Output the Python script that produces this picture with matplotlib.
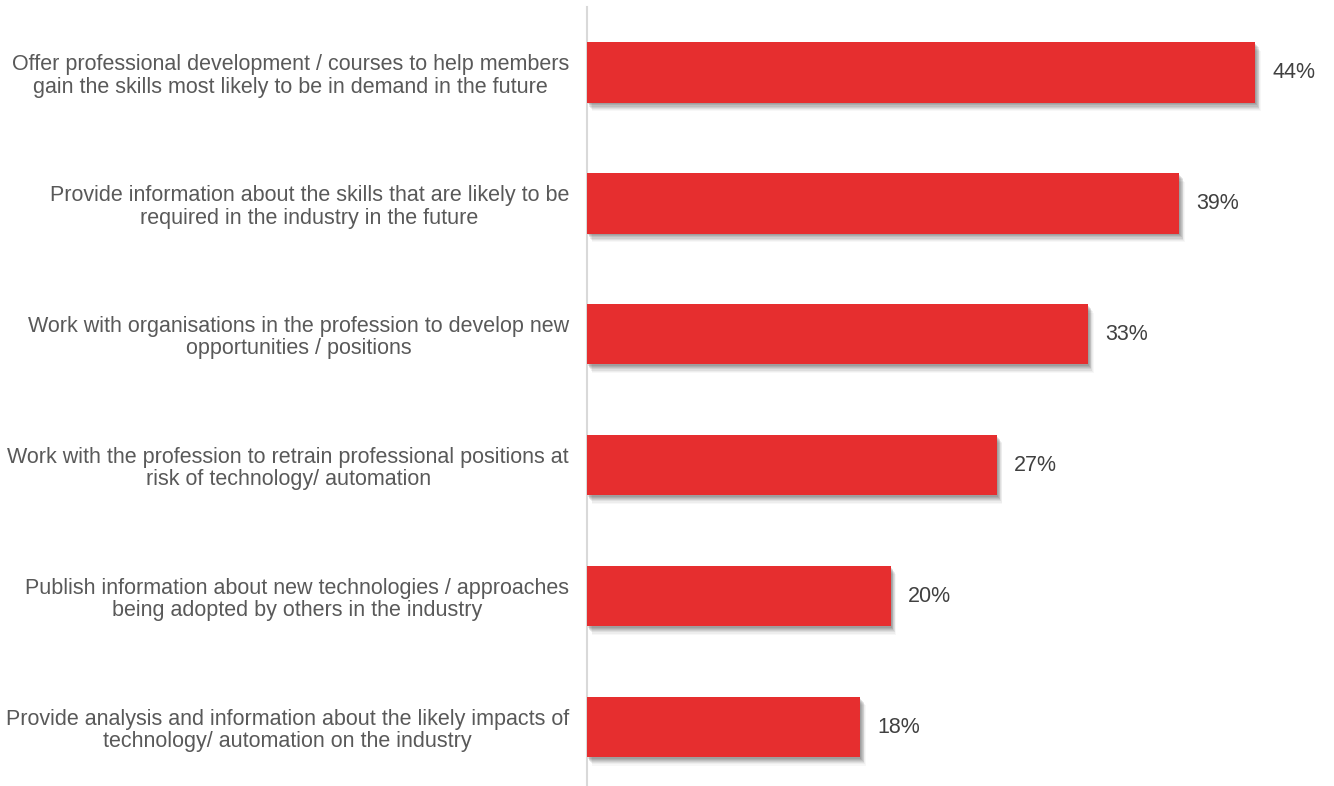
import matplotlib
matplotlib.use("Agg")
import matplotlib.pyplot as plt
import matplotlib.patheffects as pe

plt.rcParams['font.family'] = ['Liberation Sans', 'DejaVu Sans']

categories = [
    "Offer professional development / courses to help members\ngain the skills most likely to be in demand in the future",
    "Provide information about the skills that are likely to be\nrequired in the industry in the future",
    "Work with organisations in the profession to develop new\nopportunities / positions",
    "Work with the profession to retrain professional positions at\nrisk of technology/ automation",
    "Publish information about new technologies / approaches\nbeing adopted by others in the industry",
    "Provide analysis and information about the likely impacts of\ntechnology/ automation on the industry",
]
values = [44, 39, 33, 27, 20, 18]
value_labels = ["44%", "39%", "33%", "27%", "20%", "18%"]

BAR_COLOR = "#e62e2f"
TEXT_COLOR = "#595959"

fig = plt.figure(figsize=(13.34, 7.86), dpi=100)
ax = fig.add_axes([0.4400, 0.0, 0.550, 0.991])

# soft drop shadow built from several offset layers
shadow = []
for dx, dy, a in [(0.8, -1.2, 0.14), (1.3, -2.0, 0.13), (1.8, -2.8, 0.12),
                  (2.3, -3.6, 0.10), (2.8, -4.4, 0.08), (3.3, -5.2, 0.06),
                  (3.8, -6.0, 0.04)]:
    shadow.append(pe.SimplePatchShadow(offset=(dx, dy), shadow_rgbFace="#444444", alpha=a))
shadow.append(pe.Normal())

y = list(range(len(values)))
bars = ax.barh(y, values, height=0.46, color=BAR_COLOR, edgecolor="none", zorder=3)
for b in bars:
    b.set_path_effects(shadow)

for yi, v, lab in zip(y, values, value_labels):
    ax.annotate(lab, xy=(v, yi), xytext=(12, 0), textcoords="offset points",
                ha="left", va="center", fontsize=15.5, color="#404040")

ax.set_xlim(0, 48.3)
ax.set_ylim(5.45, -0.5)
ax.set_yticks(y)
ax.set_yticklabels(categories, fontsize=15.5, color=TEXT_COLOR,
                   multialignment="center", linespacing=1.1)
ax.tick_params(axis="y", length=0, pad=13)
ax.set_xticks([])

for s in ["top", "right", "bottom"]:
    ax.spines[s].set_visible(False)
ax.spines["left"].set_color("#d9d9d9")
ax.spines["left"].set_linewidth(1.5)

fig.savefig("out.png", dpi=100, facecolor="white")
